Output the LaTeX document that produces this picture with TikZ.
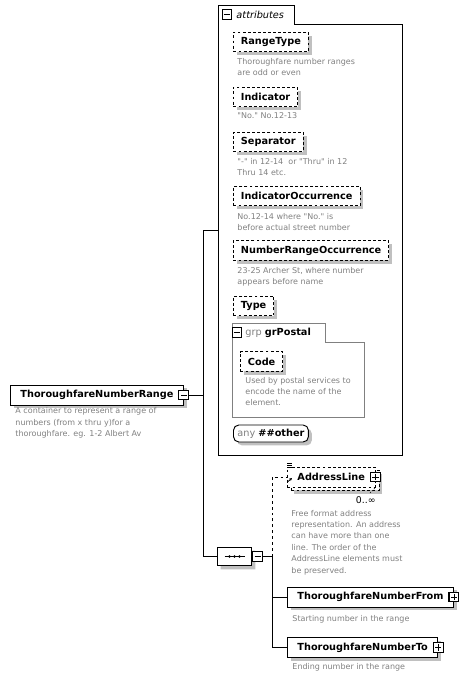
\documentclass[tikz,border=0pt]{standalone}
\usepackage{fontspec}
\setmainfont[Ligatures=TeXOff]{DejaVu Sans}
\usetikzlibrary{positioning,fit,shadows,shapes.misc,arrows.meta}

\definecolor{descgray}{RGB}{128,128,128}
\definecolor{shadowgray}{RGB}{192,192,192}
\definecolor{grpgray}{RGB}{128,128,128}

\begin{document}
\begin{tikzpicture}[x=0.75pt,y=-0.75pt,line width=0.7pt,
    namefont/.style={font=\fontsize{7.3}{8.6}\selectfont\bfseries},
    shade box/.style={general shadow={fill=shadowgray,shadow xshift=2.6pt,shadow yshift=-2.6pt}},
    elem/.style={draw,fill=white,namefont,anchor=west,minimum height=15pt,
        inner xsep=7.5pt,inner ysep=0pt,shade box},
    attr/.style={elem,dash pattern=on 2.2pt off 1.6pt,inner xsep=5.6pt,minimum height=14.5pt},
    desc/.style={font=\fontsize{6}{8.6}\selectfont,text=descgray,align=left,
        anchor=north west,inner sep=0pt},
    icon/.style={draw,fill=white,minimum size=7.4pt,inner sep=0pt,line width=0.8pt},
    minusicon/.style={icon,path picture={\draw[line width=0.6pt]
        ([xshift=1.4pt]path picture bounding box.west) --
        ([xshift=-1.4pt]path picture bounding box.east);}},
    plusicon/.style={icon,path picture={\draw[line width=0.6pt]
        ([xshift=1.4pt]path picture bounding box.west) --
        ([xshift=-1.4pt]path picture bounding box.east)
        ([yshift=1.4pt]path picture bounding box.south) --
        ([yshift=-1.4pt]path picture bounding box.north);}},
    opt link/.style={dash pattern=on 2.2pt off 2.2pt}]
    \useasboundingbox (0,0) rectangle (471,679);

    % root element
    \node[elem] (tnr) at (10,395) {ThoroughfareNumberRange\hspace{0.8pt}};
    \node[minusicon] (tnricon) at (tnr.east) {};
    \node[desc] (tnrdesc) at (15,407)
        {A container to represent a range of\\numbers (from x thru y)for a\\thoroughfare. eg. 1-2 Albert Av};

    % attributes container
    \node[fit={(218,5) (402,455)},inner sep=0pt] (attrbox) {};
    \draw (218,455) -- (218,5) -- (294,5) -- (294,24) -- (402,24) -- (402,455) -- cycle;
    \node[minusicon] (attricon) at (227,14.5) {};
    \node[anchor=west,inner sep=0pt,font=\fontsize{7.3}{8.6}\selectfont\itshape]
        (attrlabel) at (236,14.5) {attributes};

    \node[attr] (rangetype) at (233,42) {RangeType};
    \node[desc] at (237,57.5) {Thoroughfare number ranges\\are odd or even};
    \node[attr] (indicator) at (233,97) {Indicator};
    \node[desc] at (237,112.5) {"No." No.12-13};
    \node[attr] (separator) at (233,142) {Separator};
    \node[desc] at (237,157.5) {"-" in 12-14\ \ or "Thru" in 12\\Thru 14 etc.};
    \node[attr] (indocc) at (233,196) {IndicatorOccurrence};
    \node[desc] at (237,212.5) {No.12-14 where "No." is\\before actual street number};
    \node[attr] (rangeocc) at (233,250.5) {NumberRangeOccurrence};
    \node[desc] at (237,266.5) {23-25 Archer St, where number\\appears before name};
    \node[attr] (type) at (233,306) {Type};

    % attribute group
    \draw[grpgray] (232,417) -- (232,323) -- (325,323) -- (325,342) -- (364,342) -- (364,417) -- cycle;
    \node[minusicon] (grpicon) at (237,332.5) {};
    \node[anchor=west,inner sep=0pt,font=\fontsize{7.3}{8.6}\selectfont]
        (grplabel) at (245,332.5) {\textcolor{descgray}{grp}\ \textbf{grPostal}};
    \node[attr] (code) at (240,361.5) {Code};
    \node[desc] at (245,376.5) {Used by postal services to\\encode the name of the\\element.};

    \node[draw,fill=white,rounded corners=4pt,anchor=west,minimum height=12.75pt,
        inner xsep=3pt,inner ysep=0pt,font=\fontsize{7.3}{8.6}\selectfont,shade box]
        (anyother) at (233,433.5) {\textcolor{descgray}{any}\ \textbf{\#\#other}};

    % sequence
    \node[draw,fill=white,chamfered rectangle,chamfered rectangle xsep=4pt,
        chamfered rectangle ysep=4.5pt,minimum width=26pt,minimum height=14pt,
        inner sep=0pt,shade box] (seq) at (234.5,556.5) {};
    \draw (seq.center) ++(-10,0) -- ++(20,0);
    \foreach \dx in {-5,0,5}
        \fill (seq.center) ++(\dx,0) circle (1.1pt);
    \node[minusicon,anchor=west] (seqicon) at (seq.east) {};

    % child elements
    \node[elem,dash pattern=on 2.2pt off 1.6pt,
        general shadow={fill=shadowgray,shadow xshift=5pt,shadow yshift=-5pt},
        copy shadow={shadow xshift=3pt,shadow yshift=-2.4pt,draw,fill=white,dash pattern=on 2.2pt off 1.6pt}]
        (addr) at (287,477) {AddressLine\hspace{1.5pt}};
    \node[plusicon] (addricon) at (addr.east) {};
    \node[anchor=east,inner sep=0pt,font=\fontsize{7}{8}\selectfont] (addrocc) at (376,500.5) {0..∞};
    \draw[line width=0.5pt,dash pattern=on 1pt off 1pt] (370,493) -- (375,488);
    \foreach \dy in {463,465,467}
        \draw[line width=0.5pt] (287,\dy) -- (292,\dy);
    \draw[line width=0.6pt,-{Stealth[length=2.2pt,width=2.2pt]}] (287.5,482) -- (292,478);
    \node[desc] at (291,509.5) {Free format address\\representation. An address\\can have more than one\\line. The order of the\\AddressLine elements must\\be preserved.};

    \node[elem] (from) at (287,597) {ThoroughfareNumberFrom\hspace{1.5pt}};
    \node[plusicon] (fromicon) at (from.east) {};
    \node[desc] at (292,614.5) {Starting number in the range};

    \node[elem] (to) at (287,647.5) {ThoroughfareNumberTo\hspace{0.5pt}};
    \node[plusicon] (toicon) at (to.east) {};
    \node[desc] at (292,662.5) {Ending number in the range};

    % connectors
    \coordinate (forktop) at (203,230);
    \coordinate (forkbot) at (203,556.5);
    \coordinate (chain) at (272,556.5);
    \draw (tnricon.east) -- (tnricon.east -| forktop);
    \draw (forktop -| attrbox.west) -- (forktop) -- (forkbot) -- (seq.west);
    \draw (seqicon.east) -- (chain);
    \draw[opt link] (chain) |- (addr.west);
    \draw (chain) |- (from.west);
    \draw (chain) |- (to.west);
\end{tikzpicture}
\end{document}
